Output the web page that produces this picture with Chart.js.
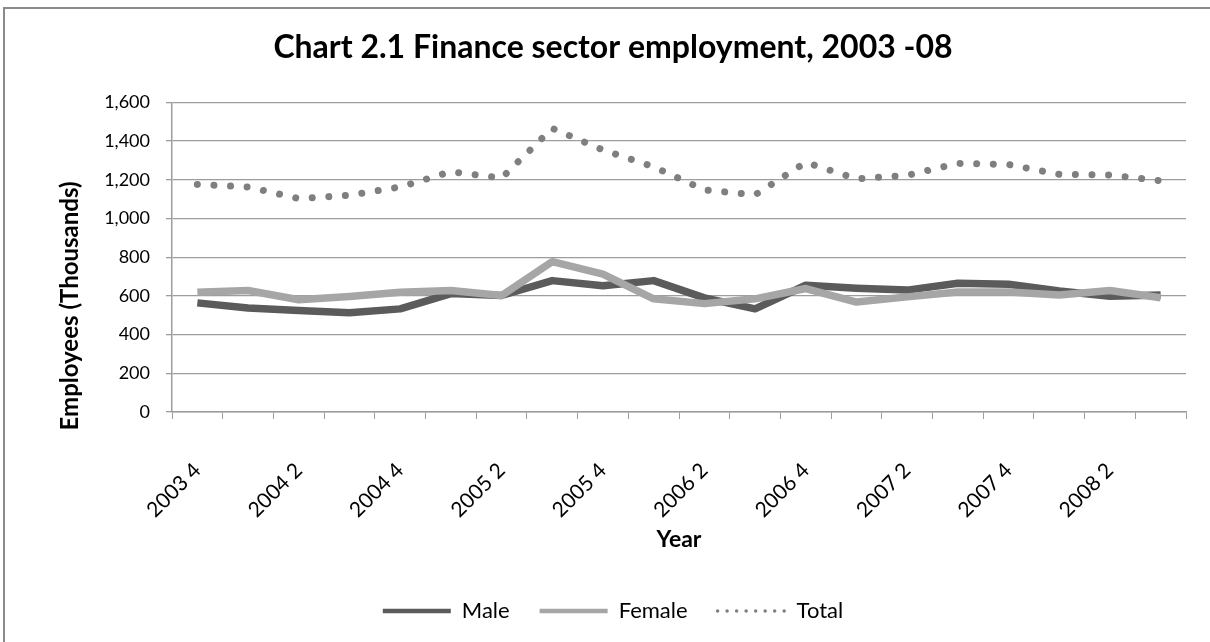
<!DOCTYPE html>
<html>
<head>
<meta charset="utf-8">
<title>Finance sector employment</title>
<script src="https://cdn.jsdelivr.net/npm/chart.js@4.4.1/dist/chart.umd.min.js"></script>
<style>
  html, body { margin: 0; padding: 0; background: #fff; overflow: hidden; }
  #frame { position: absolute; left: 3px; top: 7px; width: 1300px; height: 700px; border: 2px solid #8a8a8a; box-sizing: border-box; }
  #wrap { position: absolute; left: 0; top: 0; width: 1210px; height: 642px; }
</style>
</head>
<body>
<div id="frame"></div>
<div id="wrap"><canvas id="financeChart"></canvas></div>
<script>
  // quarters, 2003 Q4 to 2008 Q3
  const quarters = [
    '2003 4', '2004 1', '2004 2', '2004 3', '2004 4',
    '2005 1', '2005 2', '2005 3', '2005 4',
    '2006 1', '2006 2', '2006 3', '2006 4',
    '2007 1', '2007 2', '2007 3', '2007 4',
    '2008 1', '2008 2', '2008 3'
  ];

  // employees, thousands
  const maleEmployees = [564, 537, 525, 513, 533, 612, 602, 679, 653, 679, 590, 533, 655, 640, 630, 665, 660, 625, 598, 605];
  const femaleEmployees = [619, 628, 580, 597, 619, 628, 602, 777, 713, 585, 560, 585, 638, 568, 595, 620, 620, 605, 628, 590];
  const totalEmployees = [1176, 1163, 1103, 1120, 1163, 1242, 1209, 1466, 1354, 1267, 1148, 1122, 1290, 1205, 1223, 1285, 1279, 1228, 1225, 1195];

  const yMin = 0;
  const yMax = 1600;
  const yStep = 200;

  const FONT = 'Lato';
  const AXIS_GREY = '#9d9d9d';

  Chart.defaults.font.family = FONT;
  Chart.defaults.color = '#000';

  // y axis title sits lower than the plot centre, as in the original
  const yAxisTitle = {
    id: 'yAxisTitle',
    afterDraw(chart) {
      const ctx = chart.ctx;
      ctx.save();
      ctx.translate(70, 306);
      ctx.rotate(-Math.PI / 2);
      ctx.font = 'bold 24px ' + FONT;
      ctx.fillStyle = '#000';
      ctx.textAlign = 'center';
      ctx.textBaseline = 'middle';
      ctx.fillText('Employees (Thousands)', 0, 0);
      ctx.restore();
    }
  };

  const canvas = document.getElementById('financeChart');

  new Chart(canvas, {
    type: 'line',
    data: {
      labels: quarters,
      datasets: [
        {
          label: 'Male',
          data: maleEmployees,
          borderColor: '#5b5b5b',
          borderWidth: 7.5,
          borderJoinStyle: 'round',
          pointRadius: 0,
          tension: 0,
          order: 3
        },
        {
          label: 'Female',
          data: femaleEmployees,
          borderColor: '#a6a6a6',
          borderWidth: 7.5,
          borderJoinStyle: 'round',
          pointRadius: 0,
          tension: 0,
          order: 2
        },
        {
          label: 'Total',
          data: totalEmployees,
          borderColor: '#7f7f7f',
          borderWidth: 7,
          borderDash: [0.01, 16.6],
          borderCapStyle: 'round',
          pointRadius: 0,
          tension: 0,
          order: 1
        }
      ]
    },
    options: {
      responsive: true,
      maintainAspectRatio: false,
      animation: false,
      layout: { padding: { left: 40, right: 24, top: 0, bottom: 10 } },
      plugins: {
        title: {
          display: true,
          text: 'Chart 2.1 Finance sector employment, 2003 -08',
          font: { size: 32, weight: 'bold' },
          color: '#000',
          padding: { top: 28, bottom: 36 }
        },
        legend: {
          position: 'bottom',
          labels: {
            usePointStyle: true,
            pointStyleWidth: 68,
            boxHeight: 8,
            padding: 30,
            font: { size: 22 },
            color: '#000',
            generateLabels(chart) {
              return chart.data.datasets.map((ds, i) => ({
                text: ds.label,
                datasetIndex: i,
                pointStyle: 'line',
                strokeStyle: ds.borderColor,
                fillStyle: ds.borderColor,
                fontColor: '#000',
                lineWidth: i === 2 ? 3.5 : 4.5,
                lineDash: i === 2 ? [0.01, 9.5] : [],
                lineCap: i === 2 ? 'round' : 'butt',
                hidden: false
              }));
            }
          }
        },
        tooltip: { enabled: false }
      },
      scales: {
        x: {
          offset: true,
          afterFit(scale) {
            scale.height = 158;
            scale.paddingLeft = 0;
            scale.paddingRight = 0;
          },
          grid: {
            offset: true,
            drawOnChartArea: false,
            drawTicks: true,
            tickLength: 7,
            color: AXIS_GREY
          },
          border: { color: AXIS_GREY, width: 1.5 },
          ticks: {
            autoSkip: false,
            minRotation: 45,
            maxRotation: 45,
            padding: 39,
            font: { size: 21 },
            callback(value, index) {
              return index % 2 === 0 ? quarters[index] : '';
            }
          },
          title: {
            display: true,
            text: 'Year',
            font: { size: 23, weight: 'bold' },
            padding: { top: 0, bottom: 17 }
          }
        },
        y: {
          min: yMin,
          max: yMax,
          afterFit(scale) { scale.width = 132; },
          grid: {
            color: AXIS_GREY,
            lineWidth: 1.3,
            tickLength: 6
          },
          border: { color: AXIS_GREY, width: 1.5 },
          ticks: {
            stepSize: yStep,
            padding: 16,
            font: { size: 18 },
            callback(value) { return value.toLocaleString('en-US'); }
          }
        }
      }
    },
    plugins: [yAxisTitle]
  });
</script>
</body>
</html>
